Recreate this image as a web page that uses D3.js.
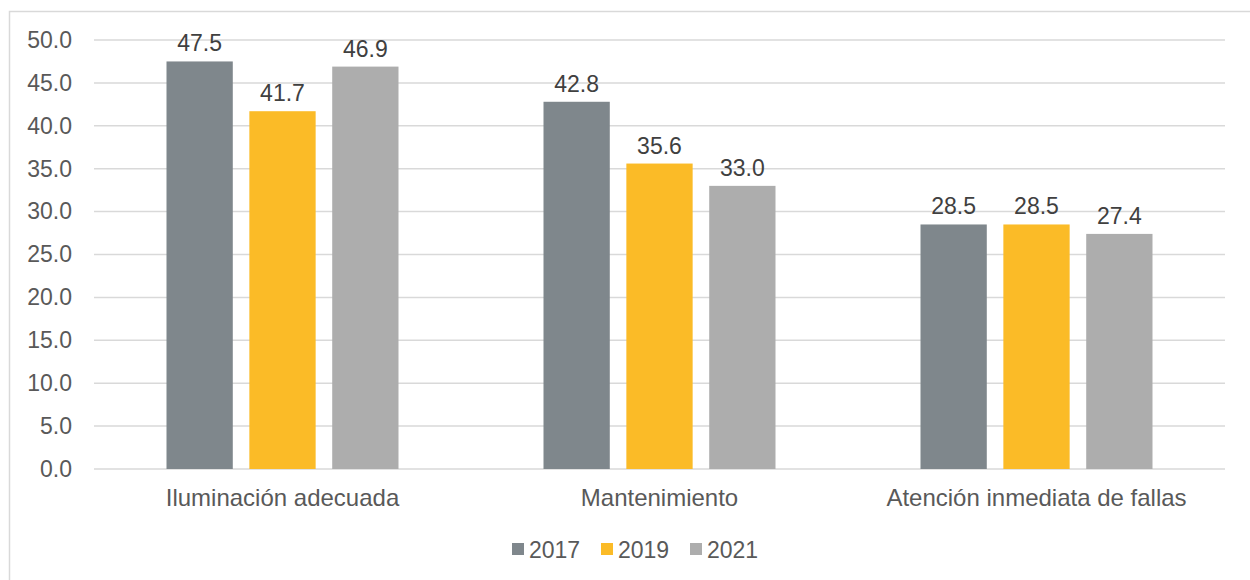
<html>
<head>
<meta charset="utf-8">
<script src="https://cdn.jsdelivr.net/npm/d3@7"></script>
<style>
  body { margin: 0; background: #fff; }
  text { font-family: "Liberation Sans", Arial, sans-serif; }
</style>
</head>
<body>
<script>
var categories = ["Iluminación adecuada", "Mantenimiento", "Atención inmediata de fallas"];
var years = ["2017", "2019", "2021"];
var values2017 = [47.5, 42.8, 28.5];
var values2019 = [41.7, 35.6, 28.5];
var values2021 = [46.9, 33.0, 27.4];
var yTicks = [0, 5, 10, 15, 20, 25, 30, 35, 40, 45, 50];
var colors = ["#7f878c", "#fbbb27", "#adadad"];

var series = [values2017, values2019, values2021];

var width = 1250, height = 580;
var fontSize = 23;
var svg = d3.select("body").append("svg")
  .attr("width", width)
  .attr("height", height);

svg.append("rect")
  .attr("x", 9.5).attr("y", 11.5)
  .attr("width", 1260).attr("height", 600)
  .attr("fill", "#fff")
  .attr("stroke", "#d9d9d9")
  .attr("stroke-width", 1.5);

var plotLeft = 94, plotRight = 1225, plotTop = 40, plotBottom = 469;

var x0 = d3.scaleBand().domain(categories).range([plotLeft, plotRight]).padding(0);
var x1 = d3.scaleBand().domain(years)
  .range([x0.bandwidth() / 2 - 116, x0.bandwidth() / 2 + 116])
  .paddingInner(0.2).paddingOuter(0);
var y = d3.scaleLinear().domain([0, 50]).range([plotBottom, plotTop]);

// grid lines
svg.append("g").selectAll("line")
  .data(yTicks)
  .enter().append("line")
  .attr("x1", plotLeft).attr("x2", plotRight)
  .attr("y1", function(d) { return y(d); })
  .attr("y2", function(d) { return y(d); })
  .attr("stroke", "#d9d9d9")
  .attr("stroke-width", 1.5);

// y axis labels
var yAxis = d3.axisLeft(y).tickValues(yTicks).tickFormat(d3.format(".1f")).tickSize(0).tickPadding(0);
var ya = svg.append("g").attr("transform", "translate(72,0)").call(yAxis);
ya.select(".domain").remove();
ya.selectAll("text")
  .attr("font-size", fontSize)
  .attr("fill", "#595959")
  .attr("font-family", "Liberation Sans, Arial, sans-serif");

// bars
var groups = svg.append("g").selectAll("g")
  .data(categories)
  .enter().append("g")
  .attr("transform", function(d) { return "translate(" + x0(d) + ",0)"; });

groups.selectAll("rect")
  .data(function(d, i) { return years.map(function(yr, j) { return { year: yr, value: series[j][i], j: j }; }); })
  .enter().append("rect")
  .attr("x", function(d) { return x1(d.year); })
  .attr("y", function(d) { return y(d.value); })
  .attr("width", x1.bandwidth())
  .attr("height", function(d) { return y(0) - y(d.value); })
  .attr("fill", function(d) { return colors[d.j]; });

groups.selectAll("text")
  .data(function(d, i) { return years.map(function(yr, j) { return { year: yr, value: series[j][i] }; }); })
  .enter().append("text")
  .attr("x", function(d) { return x1(d.year) + x1.bandwidth() / 2; })
  .attr("y", function(d) { return y(d.value) - 10; })
  .attr("text-anchor", "middle")
  .attr("font-size", fontSize)
  .attr("fill", "#404040")
  .text(function(d) { return d.value.toFixed(1); });

// category labels
var xAxis = d3.axisBottom(x0).tickSize(0).tickPadding(0);
var xa = svg.append("g").attr("transform", "translate(0,489)").call(xAxis);
xa.select(".domain").remove();
xa.selectAll("text")
  .attr("font-size", 24)
  .attr("fill", "#595959")
  .attr("font-family", "Liberation Sans, Arial, sans-serif");

// legend
var legendX = [512, 601, 690];
var legend = svg.append("g").selectAll("g")
  .data(years)
  .enter().append("g")
  .attr("transform", function(d, i) { return "translate(" + legendX[i] + ",543)"; });
legend.append("rect")
  .attr("width", 12).attr("height", 12)
  .attr("fill", function(d, i) { return colors[i]; });
legend.append("text")
  .attr("x", 17).attr("y", 15)
  .attr("font-size", fontSize)
  .attr("fill", "#595959")
  .text(function(d) { return d; });
</script>
</body>
</html>
